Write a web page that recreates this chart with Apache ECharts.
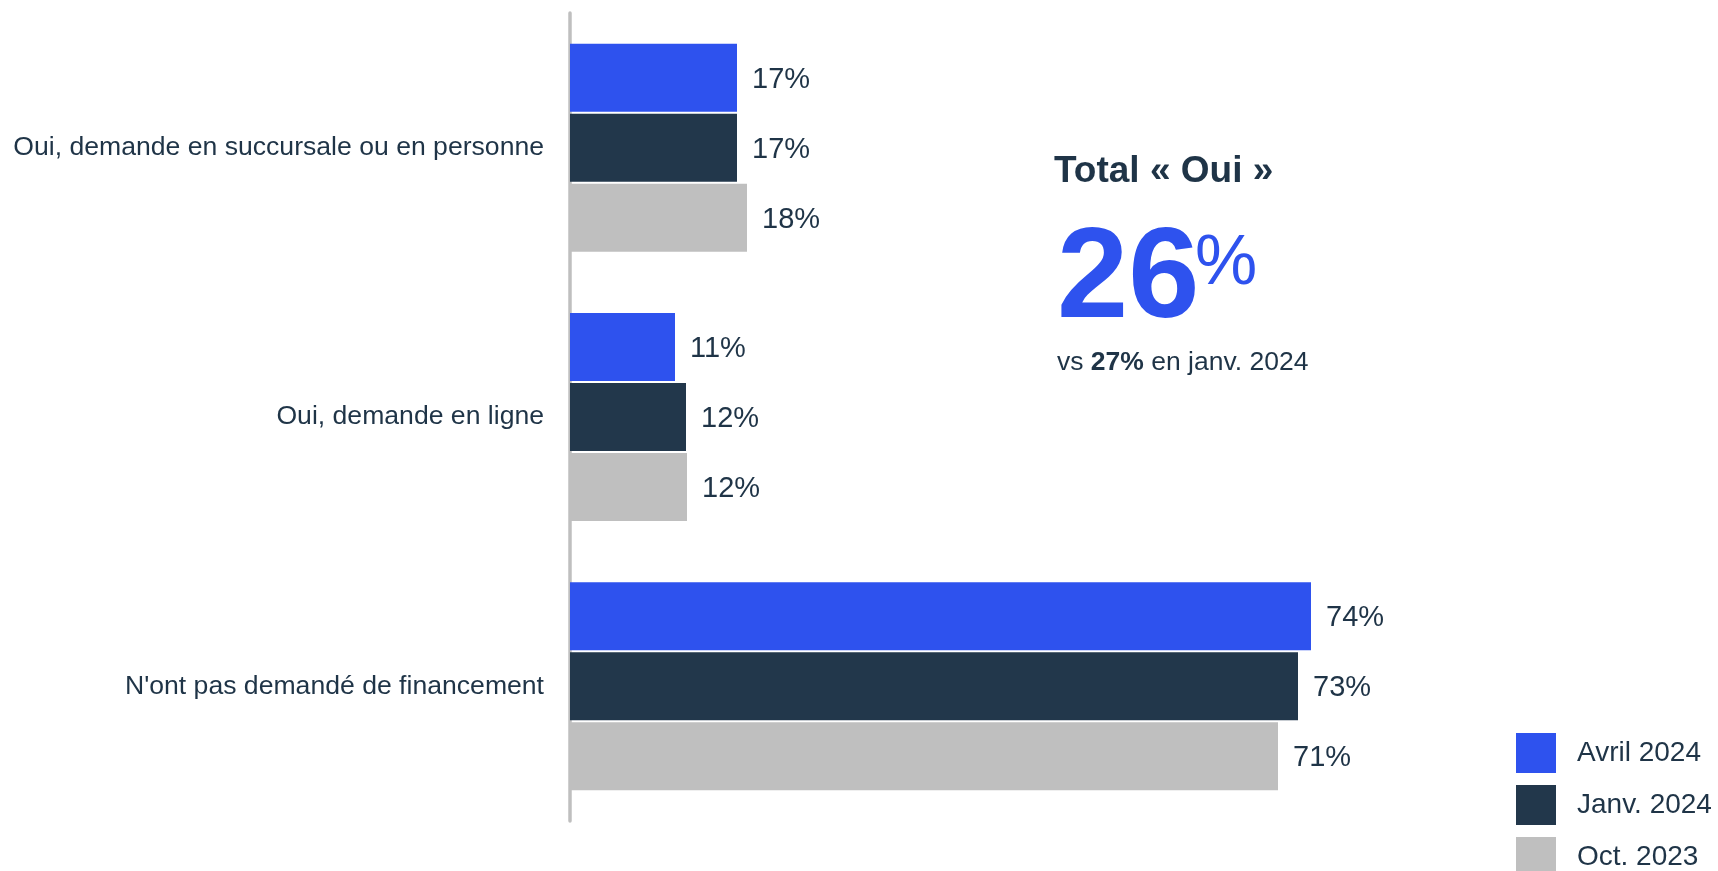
<!DOCTYPE html>
<html>
<head>
<meta charset="utf-8">
<script src="https://cdn.jsdelivr.net/npm/echarts@6/dist/echarts.min.js"></script>
<style>
html,body{margin:0;padding:0;background:#fff;}
#chart{width:1718px;height:871px;}
</style>
</head>
<body>
<div id="chart"></div>
<script>
const categories = ['Oui, demande en succursale ou en personne', 'Oui, demande en ligne', "N'ont pas demandé de financement"];
const seriesNames = ['Avril 2024', 'Janv. 2024', 'Oct. 2023'];
const avril2024 = [16.7, 10.5, 74.1];
const janv2024 = [16.7, 11.6, 72.8];
const oct2023 = [17.7, 11.7, 70.8];
const colors = ['#2E52EE', '#22374B', '#BFBFBF'];
const totalTitle = 'Total « Oui »';
const totalValue = '26';
const compareValue = '27%';

const FONT = '"Liberation Sans", Arial, sans-serif';
const TEXT = '#1F3447';

const chart = echarts.init(document.getElementById('chart'), null, {renderer: 'canvas'});
const values = [avril2024, janv2024, oct2023];
const series = seriesNames.map((name, i) => ({
  name: name,
  type: 'bar',
  data: values[i],
  barWidth: 68,
  barGap: '3%',
  itemStyle: {color: colors[i]},
  label: {
    show: true,
    position: 'right',
    distance: 15,
    offset: [0, 2],
    formatter: p => Math.round(p.value) + '%',
    fontSize: 29,
    fontFamily: FONT,
    color: TEXT
  }
}));

chart.setOption({
  animation: false,
  backgroundColor: '#fff',
  color: colors,
  grid: {left: 570, right: 148, top: 13, height: 808, containLabel: false},
  xAxis: {type: 'value', min: 0, max: 100, show: false},
  yAxis: {
    type: 'category',
    data: categories,
    inverse: true,
    offset: 2,
    axisLine: {show: true, lineStyle: {color: '#BFBFBF', width: 3.5}},
    axisTick: {show: false},
    splitLine: {show: false},
    axisLabel: {fontSize: 26.6, fontFamily: FONT, color: TEXT, margin: 24}
  },
  legend: {
    orient: 'vertical',
    left: 1516,
    top: 733,
    height: 300,
    padding: 0,
    itemWidth: 40,
    itemHeight: 40,
    itemGap: 12,
    icon: 'rect',
    selectedMode: false,
    data: seriesNames,
    textStyle: {fontSize: 28, fontFamily: FONT, color: TEXT, padding: [0, 0, 0, 16]}
  },
  graphic: [
    {type: 'text', left: 1054, top: 153, style: {text: totalTitle, font: 'bold 37px ' + FONT, fill: '#1F3447'}},
    {type: 'text', left: 1057, top: 218, style: {text: totalValue, font: 'bold 128px ' + FONT, fill: '#2E52EE'}},
    {type: 'text', left: 1195, top: 230, style: {text: '%', font: 'normal 70px ' + FONT, fill: '#2E52EE'}},
    {type: 'text', left: 1057, top: 349, style: {
      text: 'vs {b|' + compareValue + '} en janv. 2024',
      font: 'normal 26.5px ' + FONT, fill: TEXT,
      rich: {b: {fontWeight: 'bold', fontSize: 26.5, fontFamily: FONT, fill: TEXT, color: TEXT}}
    }}
  ],
  series: series
});
</script>
</body>
</html>
